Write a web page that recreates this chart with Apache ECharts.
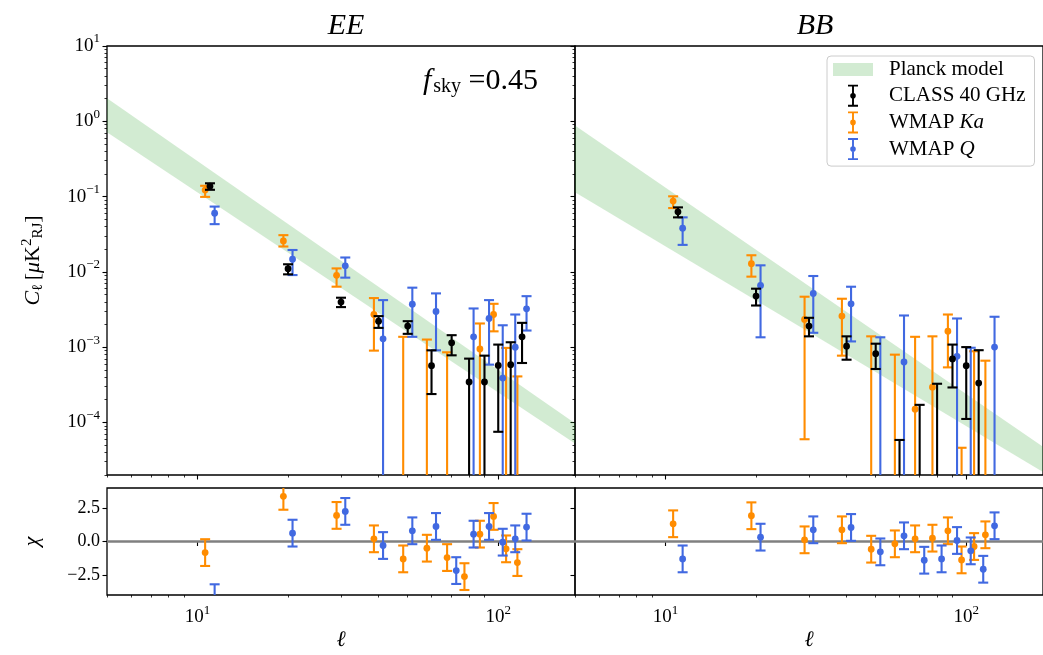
<!DOCTYPE html>
<html><head><meta charset="utf-8">
<script src="https://cdn.jsdelivr.net/npm/echarts@6/dist/echarts.min.js"></script>
<style>html,body{margin:0;padding:0;background:#fff}#c{width:1043px;height:655px}</style>
</head><body><div id="c"></div>
<script>
// ---------------- data ----------------
const ellClass = [11, 20, 30, 40, 50, 60, 70, 80, 90, 100, 110, 120];
const ellKa = [10.6, 19.3, 29.0, 38.6, 48.3, 57.9, 67.6, 77.2, 86.9, 96.5, 106.2, 115.8];
const ellQ = [11.4, 20.7, 31.0, 41.4, 51.8, 62.1, 72.5, 82.8, 93.2, 103.5, 113.9, 124.2];

// centre value, lower end, upper end (null = off scale; lower 0 = bar runs below the axis)
const eeClassVal = [0.137, 0.0110, 0.00396, 0.00221, 0.0019, 0.000566, 0.00114, 0.000344, 0.000344, 0.000571, 0.000585, 0.00137];
const eeClassLo  = [0.123, 0.00926, 0.0034, 0.0018, 0.0015, 0.000238, 0.000778, 0, 0, 7.5e-5, 0, 0.000615];
const eeClassHi  = [0.150, 0.0126, 0.00453, 0.00258, 0.00221, 0.000906, 0.00144, 0.000703, 0.00077, 0.00108, 0.00116, 0.0021];

const eeKaVal = [0.122, 0.0257, 0.00898, 0.00271, null, null, null, null, 0.000946, 0.00271, null, null];
const eeKaLo  = [0.099, 0.0217, 0.00635, 0.000898, 0, 0, 0, null, 0, 0.00162, 0, 0];
const eeKaHi  = [0.139, 0.0307, 0.0111, 0.00448, 0.00137, 0.00126, 0.000853, null, 0.00206, 0.00376, 0.000976, 0.000408];

const eeQVal = [0.060, 0.0147, 0.0120, 0.00129, 0.00372, 0.00297, null, 0.00137, 0.0024, 0.000388, 0.000996, 0.00323];
const eeQLo  = [0.043, 0.00906, 0.00837, 0, 0.00137, 0.000906, null, 0, 0.000585, 0, 0, 0.00166];
const eeQHi  = [0.0736, 0.0195, 0.0155, 0.00421, 0.00616, 0.00517, null, 0.00326, 0.00421, 0.00195, 0.00271, 0.00475];

const bbClassVal = [0.0627, 0.00476, 0.0019, 0.00103, 0.000819, null, null, null, 0.000697, 0.000566, 0.000333, null];
const bbClassLo  = [0.0529, 0.00357, 0.00139, 0.00068, 0.000512, 0, 0, 0, 0.000291, 0.000111, 0, null];
const bbClassHi  = [0.0718, 0.00597, 0.00245, 0.00139, 0.00111, 5.84e-5, 0.000171, 0.000326, 0.00108, 0.001, 0.00091, null];

const bbKaVal = [0.087, 0.01285, 0.00233, 0.00258, null, null, 0.00015, 0.000294, 0.00163, null, null, null];
const bbKaLo  = [0.0703, 0.00863, 5.97e-5, 0.00077, 0, 0, 0, 0, 0.000538, 0, 0, 0];
const bbKaHi  = [0.1007, 0.0166, 0.00467, 0.00439, 0.00139, 0.000794, 0.00137, 0.00139, 0.00271, 4.6e-5, 0.00088, 0.00066];

const bbQVal = [0.038, 0.0066, 0.00517, 0.00376, null, 0.000634, null, null, 0.000755, null, null, 0.001];
const bbQLo  = [0.0228, 0.00135, 0.00155, 0.00119, 0, 0, null, null, 0, 0, null, 0];
const bbQHi  = [0.0529, 0.0122, 0.0088, 0.00634, 0.00135, 0.00263, null, null, 0.0024, 0.00098, null, 0.00253];

// residuals chi (error = 1)
const eeChiKa = [-0.83, 3.375, 1.95, 0.2, -1.3, -0.5, -1.2, -2.625, 0.55, 1.875, -0.55, -1.575];
const eeChiQ  = [-4.2, 0.625, 2.25, -0.3, 0.8, 1.125, -2.175, 0.55, 1.125, -0.05, 0.2, 1.075];
const bbChiKa = [1.325, 1.925, 0.125, 0.875, -0.575, -0.175, 0.2, 0.25, 0.8, -1.375, -0.375, 0.5];
const bbChiQ  = [-1.3, 0.325, 0.875, 1.05, -0.775, 0.425, -1.4, -1.3, 0.075, -0.7, -2.075, 1.175];
const chiErr = 1;

// Planck model band
const bandEll = [5, 180];
const eeBandLo = [0.713, 5.25e-5];
const eeBandHi = [2.03, 9.76e-5];
const bbBandLo = [0.114, 2.2e-5];
const bbBandHi = [0.88, 4.76e-5];

// axes / ticks
const xMin = 5, xMax = 180;
const yMin = 2e-5, yMax = 10;
const chiMin = -4, chiMax = 4;
const xMajor = [10, 100];
const xMinor = [5, 6, 7, 8, 9, 20, 30, 40, 50, 60, 70, 80, 90];
const yMajor = [1e-4, 1e-3, 1e-2, 1e-1, 1, 10];
const yDecades = [1e-5, 1e-4, 1e-3, 1e-2, 1e-1, 1];
const minorMult = [2, 3, 4, 5, 6, 7, 8, 9];
const yMinor = yDecades.flatMap(d => minorMult.map(m => +(m * d).toPrecision(3)));
const chiTicks = [-2.5, 0, 2.5];

// ---------------- style ----------------
const SERIF = '"Liberation Serif", "DejaVu Serif", serif';
const C_CLASS = '#000000', C_KA = '#ff8c00', C_Q = '#4169e1';
const BAND = 'rgba(44,160,44,0.21)';

const grids = [
  {left: 107, top: 46, width: 468, height: 429},
  {left: 575, top: 46, width: 469, height: 429},
  {left: 107, top: 488, width: 468, height: 107},
  {left: 575, top: 488, width: 469, height: 107}
].map(g => Object.assign({show: true, borderColor: '#000', borderWidth: 1.3, backgroundColor: 'transparent'}, g));

const powRich = {
  b: {fontFamily: SERIF, fontSize: 19, color: '#000'},
  e: {fontFamily: SERIF, fontSize: 13, color: '#000', padding: [0, 0, 14, 0]}
};
function powLabel(v) {
  const e = Math.round(Math.log10(v));
  return '{b|10}{e|' + (e < 0 ? '\u2212' + (-e) : e) + '}';
}

const xAxes = [], yAxes = [];
for (let g = 0; g < 4; g++) {
  xAxes.push({
    type: 'log', logBase: 10, gridIndex: g, min: xMin, max: xMax, position: 'bottom',
    axisLine: {show: false}, splitLine: {show: false},
    axisTick: {show: true, inside: false, length: 4.5, lineStyle: {color: '#000', width: 1.1}, customValues: xMajor},
    axisLabel: {show: g >= 2, customValues: xMajor, formatter: powLabel, rich: powRich, margin: 9},
    name: g >= 2 ? '\u2113' : '', nameLocation: 'middle', nameGap: 34,
    nameTextStyle: {fontFamily: SERIF, fontStyle: 'italic', fontSize: 22, color: '#000'}
  });
}
for (let g = 0; g < 4; g++) {
  xAxes.push({
    type: 'log', logBase: 10, gridIndex: g, min: xMin, max: xMax, position: 'bottom',
    axisLine: {show: false}, splitLine: {show: false},
    axisTick: {show: true, inside: false, length: 2.5, lineStyle: {color: '#000', width: 0.8}, customValues: xMinor},
    axisLabel: {show: false}
  });
}
for (let g = 0; g < 2; g++) {
  yAxes.push({
    type: 'log', logBase: 10, gridIndex: g, min: yMin, max: yMax, position: 'left',
    axisLine: {show: false}, splitLine: {show: false},
    axisTick: {show: true, inside: false, length: 4.5, lineStyle: {color: '#000', width: 1.1}, customValues: yMajor},
    axisLabel: {show: g === 0, customValues: yMajor, formatter: powLabel, rich: powRich, margin: 7},
    name: g === 0 ? '{i|C}{sub|\u2113} {n|[}{i|\u03bc}{n|K}{sup|2}{sub|RJ}{n|]}' : '',
    nameLocation: 'middle', nameGap: 60, nameRotate: 90,
    nameTextStyle: {
      rich: {
        i: {fontFamily: SERIF, fontStyle: 'italic', fontSize: 22, color: '#000'},
        n: {fontFamily: SERIF, fontSize: 22, color: '#000'},
        sub: {fontFamily: SERIF, fontSize: 15, color: '#000', padding: [10, 0, 0, 0]},
        sup: {fontFamily: SERIF, fontSize: 15, color: '#000', padding: [0, 0, 12, 0]}
      }
    }
  });
}
for (let g = 2; g < 4; g++) {
  yAxes.push({
    type: 'value', gridIndex: g, min: chiMin, max: chiMax, position: 'left',
    axisLine: {show: false}, splitLine: {show: false},
    axisTick: {show: true, inside: false, length: 4.5, lineStyle: {color: '#000', width: 1.1}, customValues: chiTicks},
    axisLabel: {show: g === 2, customValues: chiTicks, margin: 7,
      formatter: v => (v < 0 ? '\u2212' : '') + Math.abs(v).toFixed(1),
      fontFamily: SERIF, fontSize: 18, color: '#000'},
    name: g === 2 ? '\u03c7' : '', nameLocation: 'middle', nameGap: 64, nameRotate: 90,
    nameTextStyle: {fontFamily: SERIF, fontStyle: 'italic', fontSize: 22, color: '#000'}
  });
}
for (let g = 0; g < 2; g++) {
  yAxes.push({
    type: 'log', logBase: 10, gridIndex: g, min: yMin, max: yMax, position: 'left',
    axisLine: {show: false}, splitLine: {show: false},
    axisTick: {show: true, inside: false, length: 2.5, lineStyle: {color: '#000', width: 0.8}, customValues: yMinor},
    axisLabel: {show: false}
  });
}

// ---------------- renderers ----------------
function errRender(color, isLog) {
  return function (params, api) {
    const cs = params.coordSys;
    const top = cs.y, bot = cs.y + cs.height;
    const x = api.value(0), v = api.value(1), lo = api.value(2), hi = api.value(3);
    if (!isFinite(hi)) return;
    const pHi = api.coord([x, hi]);
    const px = pHi[0], yHi = pHi[1];
    const yLo = (!isLog || lo > 0) ? api.coord([x, lo])[1] : bot + 100;
    const kids = [];
    const y1 = Math.max(yHi, top), y2 = Math.min(yLo, bot);
    const ls = {stroke: color, lineWidth: 2.1};
    if (y2 > y1) kids.push({type: 'line', shape: {x1: px, y1: y1, x2: px, y2: y2}, style: ls});
    const cap = 5;
    if (yHi >= top && yHi <= bot) kids.push({type: 'line', shape: {x1: px - cap, y1: yHi, x2: px + cap, y2: yHi}, style: ls});
    if (yLo >= top && yLo <= bot) kids.push({type: 'line', shape: {x1: px - cap, y1: yLo, x2: px + cap, y2: yLo}, style: ls});
    if (isFinite(v) && (!isLog || v > 0)) {
      const yv = api.coord([x, v])[1];
      if (yv >= top && yv <= bot) kids.push({type: 'circle', shape: {cx: px, cy: yv, r: 3.4}, style: {fill: color}});
    }
    return {type: 'group', children: kids};
  };
}
function bandRender(lo, hi) {
  return function (params, api) {
    if (params.dataIndex !== 0) return;
    const pts = [];
    for (let i = 0; i < bandEll.length; i++) pts.push(api.coord([bandEll[i], hi[i]]));
    for (let i = bandEll.length - 1; i >= 0; i--) pts.push(api.coord([bandEll[i], lo[i]]));
    return {type: 'polygon', shape: {points: pts}, style: {fill: BAND}};
  };
}
function logData(ell, val, lo, hi) {
  const out = [];
  for (let i = 0; i < ell.length; i++) if (hi[i] !== null) out.push([ell[i], val[i], lo[i], hi[i]]);
  return out;
}
function chiData(ell, chi) {
  return ell.map((l, i) => [l, chi[i], chi[i] - chiErr, chi[i] + chiErr]);
}
function errSeries(name, g, color, data, isLog) {
  return {type: 'custom', name: name, xAxisIndex: g, yAxisIndex: g, renderItem: errRender(color, isLog),
    data: data, encode: {x: 0, y: 3}, itemStyle: {color: color}, z: 3, clip: true, silent: true};
}

const series = [
  {type: 'custom', name: 'Planck model', xAxisIndex: 0, yAxisIndex: 0, renderItem: bandRender(eeBandLo, eeBandHi),
    data: bandEll.map((l, i) => [l, eeBandLo[i], eeBandHi[i]]), encode: {x: 0, y: 2}, z: 1, clip: true, silent: true, itemStyle: {color: BAND}},
  {type: 'custom', name: 'Planck model', xAxisIndex: 1, yAxisIndex: 1, renderItem: bandRender(bbBandLo, bbBandHi),
    data: bandEll.map((l, i) => [l, bbBandLo[i], bbBandHi[i]]), encode: {x: 0, y: 2}, z: 1, clip: true, silent: true, itemStyle: {color: BAND}},
  errSeries('WMAP Ka', 0, C_KA, logData(ellKa, eeKaVal, eeKaLo, eeKaHi), true),
  errSeries('WMAP Q', 0, C_Q, logData(ellQ, eeQVal, eeQLo, eeQHi), true),
  errSeries('CLASS 40 GHz', 0, C_CLASS, logData(ellClass, eeClassVal, eeClassLo, eeClassHi), true),
  errSeries('WMAP Ka', 1, C_KA, logData(ellKa, bbKaVal, bbKaLo, bbKaHi), true),
  errSeries('WMAP Q', 1, C_Q, logData(ellQ, bbQVal, bbQLo, bbQHi), true),
  errSeries('CLASS 40 GHz', 1, C_CLASS, logData(ellClass, bbClassVal, bbClassLo, bbClassHi), true),
  errSeries('WMAP Ka', 2, C_KA, chiData(ellKa, eeChiKa), false),
  errSeries('WMAP Q', 2, C_Q, chiData(ellQ, eeChiQ), false),
  errSeries('WMAP Ka', 3, C_KA, chiData(ellKa, bbChiKa), false),
  errSeries('WMAP Q', 3, C_Q, chiData(ellQ, bbChiQ), false)
];
// zero line in residual panels
[8, 10].forEach(i => {
  series[i].markLine = {silent: true, symbol: 'none', z: 2, label: {show: false},
    lineStyle: {color: '#808080', width: 2.5, type: 'solid'}, data: [{yAxis: 0}]};
});

const EB_ICON = 'path://M0,0H10V1.9H0Z M4.05,0H5.95V22H4.05Z M0,20.1H10V22H0Z M7.8,11A2.8,2.8,0,1,1,2.2,11A2.8,2.8,0,1,1,7.8,11Z';
const legRich = {
  sp: {width: 11, fontSize: 21},
  i: {fontFamily: SERIF, fontStyle: 'italic', fontSize: 21, color: '#000'}
};

const option = {
  animation: false,
  backgroundColor: '#fff',
  grid: grids,
  xAxis: xAxes,
  yAxis: yAxes,
  series: series,
  title: [
    {text: 'EE', left: 341, top: 6, textAlign: 'center',
      textStyle: {fontFamily: SERIF, fontStyle: 'italic', fontWeight: 'normal', fontSize: 30, color: '#000'}},
    {text: 'BB', left: 810, top: 6, textAlign: 'center',
      textStyle: {fontFamily: SERIF, fontStyle: 'italic', fontWeight: 'normal', fontSize: 30, color: '#000'}},
    {text: '{i|f}{s|sky}{n| =0.45}', left: 418, top: 60,
      textStyle: {fontWeight: 'normal', rich: {
        i: {fontFamily: SERIF, fontStyle: 'italic', fontWeight: 'normal', fontSize: 30, color: '#000'},
        s: {fontFamily: SERIF, fontWeight: 'normal', fontSize: 20, color: '#000', padding: [12, 0, 0, 2]},
        n: {fontFamily: SERIF, fontWeight: 'normal', fontSize: 30, color: '#000'}
      }}}
  ],
  legend: {
    orient: 'vertical', left: 827, top: 56, padding: [3, 9, 6, 6], itemGap: 4.7, itemWidth: 40, itemHeight: 22,
    backgroundColor: 'rgba(255,255,255,0.8)', borderColor: '#cccccc', borderWidth: 1, borderRadius: 4,
    selectedMode: false,
    textStyle: {fontFamily: SERIF, fontSize: 21, color: '#000', rich: legRich},
    formatter: n => '{sp| }' + (n === 'WMAP Ka' ? 'WMAP {i|Ka}' : n === 'WMAP Q' ? 'WMAP {i|Q}' : n),
    data: [
      {name: 'Planck model', icon: 'path://M0,0H40V13H0Z', itemStyle: {color: BAND}},
      {name: 'CLASS 40 GHz', icon: EB_ICON, itemStyle: {color: C_CLASS}},
      {name: 'WMAP Ka', icon: EB_ICON, itemStyle: {color: C_KA}},
      {name: 'WMAP Q', icon: EB_ICON, itemStyle: {color: C_Q}}
    ]
  }
};
const chart = echarts.init(document.getElementById('c'), null, {renderer: 'canvas'});
chart.setOption(option);
</script></body></html>
